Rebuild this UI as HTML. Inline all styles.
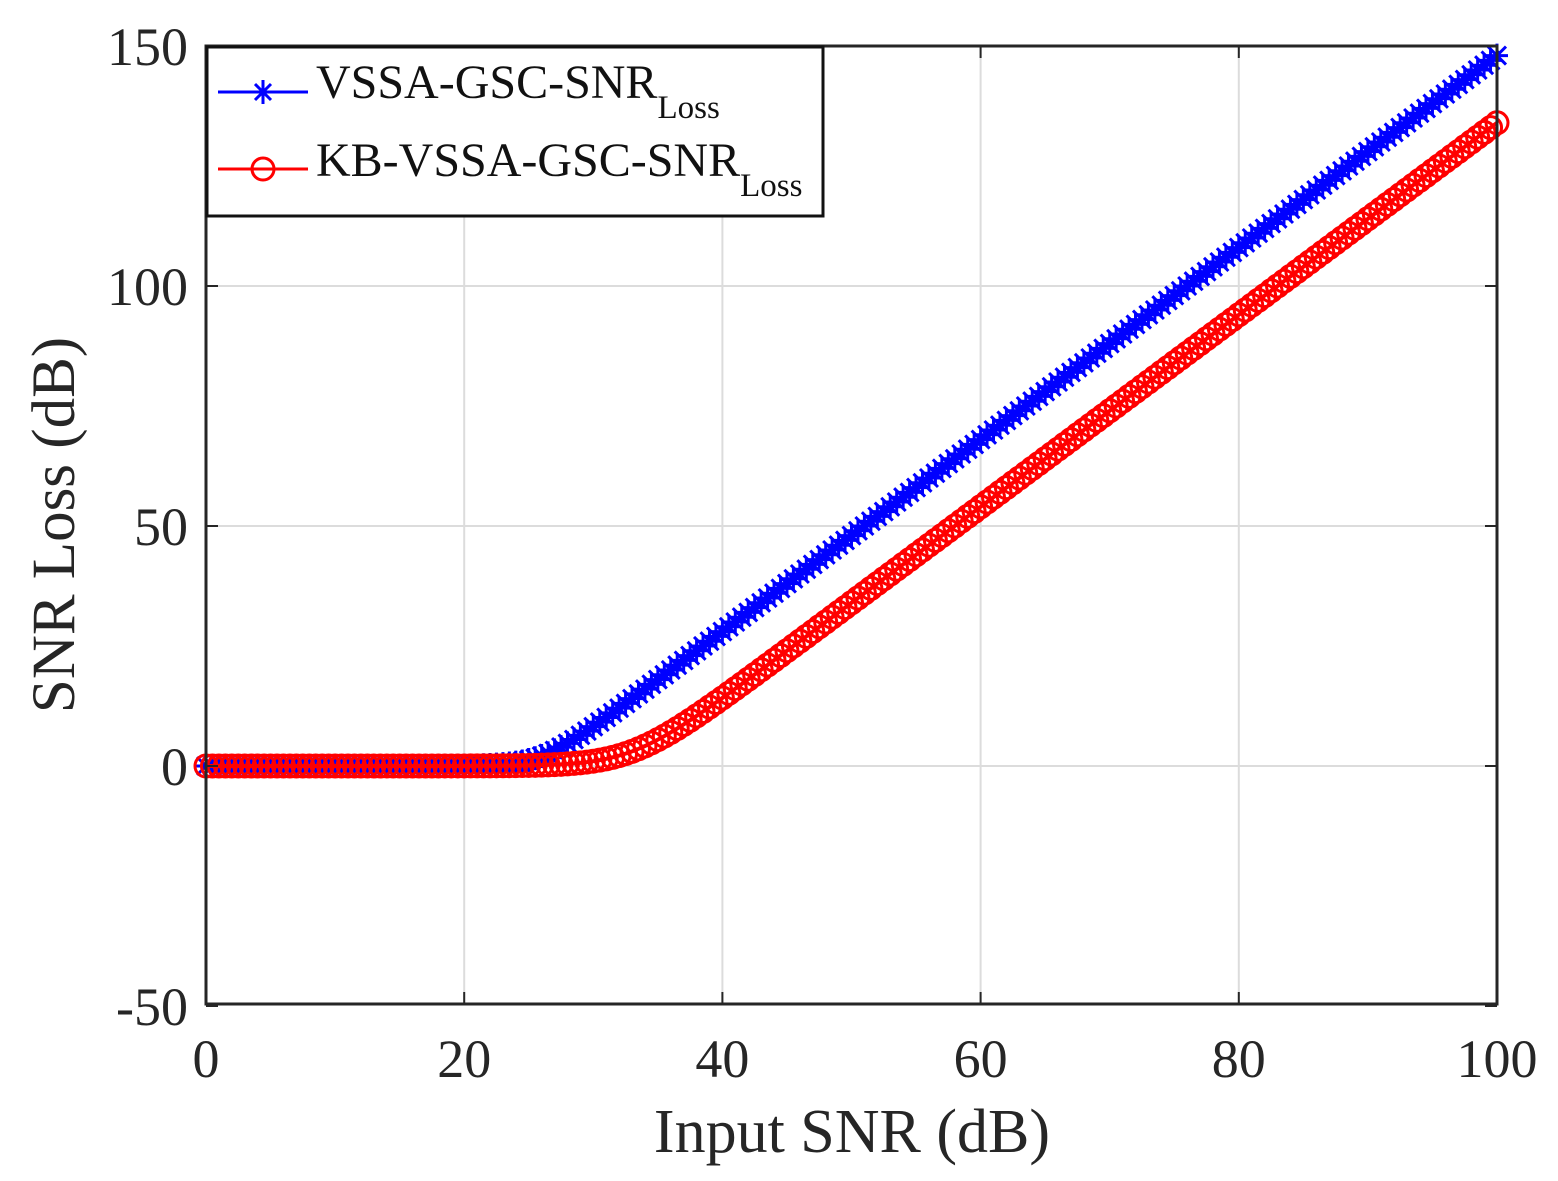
<!DOCTYPE html>
<html><head><meta charset="utf-8"><style>
html,body{margin:0;padding:0;background:#fff;}
svg text{font-family:"Liberation Serif",serif;}
</style></head><body>
<svg id="s" width="1558" height="1176" xmlns="http://www.w3.org/2000/svg">
<rect width="1558" height="1176" fill="#fff"/>
<g id="grid" stroke="#dcdcdc" stroke-width="2"></g>
<g id="data"></g>
<rect x="206" y="46" width="1291" height="958" fill="none" stroke="#262626" stroke-width="3"/>
<g id="ticks" font-size="54" fill="#262626"></g>
<text x="852" y="1152" font-size="62" text-anchor="middle" fill="#262626">Input SNR (dB)</text>
<text transform="translate(74,525) rotate(-90)" font-size="61" text-anchor="middle" fill="#262626">SNR Loss (dB)</text>
<rect x="207" y="47" width="616" height="169" fill="#fff" stroke="#111" stroke-width="3"/>
<line x1="218" y1="92" x2="308" y2="92" stroke="#0000ff" stroke-width="3"/>
<g stroke="#0000ff" stroke-width="3" transform="translate(263,92)"><line x1="-10" y1="0" x2="10" y2="0"/><line x1="0" y1="-12" x2="0" y2="12"/><line x1="-8" y1="-8" x2="8" y2="8"/><line x1="-8" y1="8" x2="8" y2="-8"/></g>
<line x1="218" y1="169" x2="308" y2="169" stroke="#ff0000" stroke-width="3"/>
<circle cx="263" cy="169" r="11" fill="none" stroke="#ff0000" stroke-width="3"/>
<text x="316" y="98" font-size="48" fill="#111">VSSA-GSC-SNR<tspan font-size="33" dy="20">Loss</tspan></text>
<text x="316" y="176" font-size="48" fill="#111">KB-VSSA-GSC-SNR<tspan font-size="33" dy="20">Loss</tspan></text>
</svg>
<script>
const NS="http://www.w3.org/2000/svg";
const X=v=>206+v*12.91, Y=v=>766-v*4.8;
const g=document.getElementById('grid'),t=document.getElementById('ticks'),d=document.getElementById('data');
function el(p,n,a){const e=document.createElementNS(NS,n);for(const k in a)e.setAttribute(k,a[k]);p.appendChild(e);return e;}
for(let v=20;v<100;v+=20)el(g,'line',{x1:X(v),x2:X(v),y1:46,y2:1004});
for(let v=0;v<=100;v+=50)el(g,'line',{x1:206,x2:1497,y1:Y(v),y2:Y(v)});
for(let v=0;v<=100;v+=20){el(t,'text',{x:X(v),y:1077,'text-anchor':'middle'}).textContent=v;
 el(t,'line',{x1:X(v),x2:X(v),y1:1004,y2:992,stroke:'#262626','stroke-width':2});
 el(t,'line',{x1:X(v),x2:X(v),y1:46,y2:58,stroke:'#262626','stroke-width':2});}
for(let v=-50;v<=150;v+=50){el(t,'text',{x:188,y:Y(v)+19,'text-anchor':'end'}).textContent=v;
 el(t,'line',{x1:206,x2:218,y1:Y(v),y2:Y(v),stroke:'#262626','stroke-width':2});
 el(t,'line',{x1:1485,x2:1497,y1:Y(v),y2:Y(v),stroke:'#262626','stroke-width':2});}
const sp=(x,k,s)=>2*s*Math.log(1+Math.exp((x-k)/s));
const fb=x=>sp(x,26,1.5), fr=x=>sp(x,33,2.2);
let pb='',pr='';
for(let x=0;x<=100.001;x+=0.5){pb+=(x?'L':'M')+X(x)+','+Y(fb(x));pr+=(x?'L':'M')+X(x)+','+Y(fr(x));}
el(d,'path',{d:pb,fill:'none',stroke:'#0000ff','stroke-width':4});
const gb=el(d,'g',{stroke:'#0000ff','stroke-width':3});
for(let x=0;x<=100.001;x+=0.5){const cx=X(x),cy=Y(fb(x));
 el(gb,'path',{d:`M${cx-11},${cy}h22M${cx},${cy-12}v24M${cx-9},${cy-9}l18,18M${cx-9},${cy+9}l18,-18`});}
el(d,'path',{d:pr,fill:'none',stroke:'#ff0000','stroke-width':4});
const gr=el(d,'g',{stroke:'#ff0000','stroke-width':3,fill:'none'});
for(let x=0;x<=100.001;x+=0.5)el(gr,'circle',{cx:X(x),cy:Y(fr(x)),r:11});
</script>
</body></html>
